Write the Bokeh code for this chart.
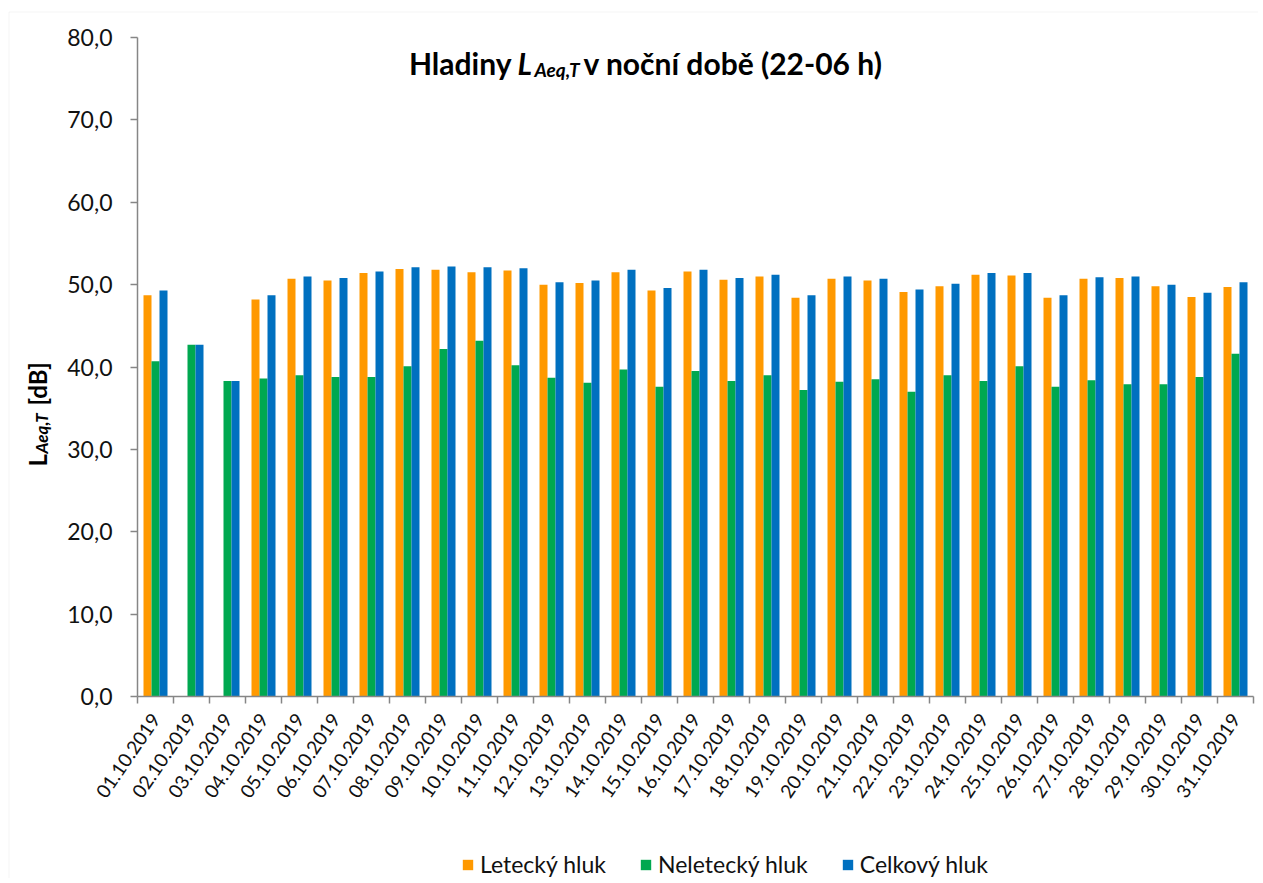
import math
from bokeh.plotting import figure
from bokeh.models import (ColumnDataSource, Range1d, LinearAxis, BoxAnnotation,
                          FixedTicker, CustomJSTickFormatter, Legend, LegendItem, Label)
from bokeh.transform import dodge
from bokeh.embed import file_html
from bokeh.resources import INLINE

nan = float("nan")
dates = ["%02d.10.2019" % d for d in range(1, 32)]
letecky = [48.7, nan, nan, 48.2, 50.7, 50.5, 51.4, 51.9, 51.8, 51.5, 51.7, 50.0, 50.2, 51.5, 49.3,
           51.6, 50.6, 51.0, 48.4, 50.7, 50.5, 49.1, 49.8, 51.2, 51.1, 48.4, 50.7, 50.8, 49.8, 48.5, 49.7]
neletecky = [40.7, 42.7, 38.3, 38.6, 39.0, 38.8, 38.8, 40.1, 42.2, 43.2, 40.2, 38.7, 38.1, 39.7, 37.6,
             39.5, 38.3, 39.0, 37.2, 38.2, 38.5, 37.0, 39.0, 38.3, 40.1, 37.6, 38.4, 37.9, 37.9, 38.8, 41.6]
celkovy = [49.3, 42.7, 38.3, 48.7, 51.0, 50.8, 51.6, 52.1, 52.2, 52.1, 52.0, 50.3, 50.5, 51.8, 49.6,
           51.8, 50.8, 51.2, 48.7, 51.0, 50.7, 49.4, 50.1, 51.4, 51.4, 48.7, 50.9, 51.0, 50.0, 49.0, 50.3]
series_names = ["Letecký hluk", "Neletecký hluk", "Celkový hluk"]
colors = ["#FF9900", "#00A850", "#0070C0"]
y_ticks = [0, 10, 20, 30, 40, 50, 60, 70, 80]
Y_MAX = 80

FONT = "Lato"
W, H = 1258, 878            # canvas
OX, OY = 0, 1               # canvas -> picture offset
PL, PR, PT, PB = 137, 1253, 38, 697   # plot area edges in picture pixels

n = len(dates)
centers = [i + 0.5 for i in range(n)]          # category slots on the x scale
bounds = [float(i) for i in range(n + 1)]

SX = (PR - PL) / n
SY = (PB - PT) / Y_MAX
x0 = -(PL - OX) / SX
x1 = n + (OX + W - PR) / SX
y0 = -(H + OY - PB) / SY
y1 = Y_MAX + (PT - OY) / SY


def xd(px):
    return x0 + (px - OX) / SX


def yd(py):
    return y1 - (py - OY) / SY


src = ColumnDataSource(dict(x=centers, a=letecky, b=neletecky, c=celkovy))

p = figure(x_range=Range1d(x0, x1), y_range=Range1d(y0, y1),
           width=W, height=H, min_border=0,
           x_axis_location=None, y_axis_location=None,
           output_backend="svg", toolbar_location=None)
p.outline_line_color = None
p.background_fill_color = "white"
p.border_fill_color = "white"
p.xgrid.visible = False
p.ygrid.visible = False
for g in p.grid:
    g.visible = False

bw = 8 / SX
offs = [-bw, 0, bw]
rs = []
for col, off, colr in zip(["a", "b", "c"], offs, colors):
    r = p.vbar(x=dodge("x", off), top=col, bottom=0, width=bw, source=src,
               fill_color=colr, line_color=None)
    rs.append(r)

# y axis
yax = LinearAxis(fixed_location=0, bounds=(0, Y_MAX), ticker=FixedTicker(ticks=y_ticks),
                 formatter=CustomJSTickFormatter(code="return tick.toFixed(1).replace('.', ',');"))
yax.axis_line_color = "#868686"
yax.axis_line_width = 1.5
yax.major_tick_line_color = "#868686"
yax.major_tick_line_width = 1.5
yax.major_tick_out = 7
yax.major_tick_in = 0
yax.minor_tick_line_color = None
yax.major_label_text_font = FONT
yax.major_label_text_font_size = "23px"
yax.major_label_text_color = "#111111"
yax.major_label_standoff = 18
p.add_layout(yax, "left")

# x axis: labels at slot centres, tick marks at slot boundaries
xax = LinearAxis(fixed_location=0, bounds=(0, n), ticker=FixedTicker(ticks=centers, minor_ticks=bounds))
xax.major_label_overrides = {c: d for c, d in zip(centers, dates)}
xax.axis_line_color = "#868686"
xax.axis_line_width = 1.5
xax.major_tick_line_color = None
xax.minor_tick_line_color = "#868686"
xax.minor_tick_line_width = 1.5
xax.minor_tick_out = 7
xax.minor_tick_in = 0
xax.major_tick_out = 7
xax.major_tick_in = 0
xax.major_label_orientation = 0.97
xax.major_label_text_font = FONT
xax.major_label_text_font_size = "19px"
xax.major_label_text_color = "#111111"
xax.major_label_standoff = 12
p.add_layout(xax, "below")

# chart-area border (left and top edges visible)
p.add_layout(BoxAnnotation(left=xd(8.5), top=yd(12.5), right=x1 + 1, bottom=y0 - 1,
                           fill_alpha=0, line_color="#d9d9d9", line_width=1))

# title pieces
tkw = dict(text_font=FONT, text_color="#000000", text_baseline="alphabetic")
p.add_layout(Label(x=xd(511), y=yd(63), text="Hladiny", text_align="right",
                   text_font_size="30px", text_font_style="bold", **tkw))
p.add_layout(Label(x=xd(517), y=yd(63), text="L", text_align="left",
                   text_font_size="30px", text_font_style="bold italic", **tkw))
p.add_layout(Label(x=xd(534), y=yd(70), text="Aeq,T", text_align="left",
                   text_font_size="19px", text_font_style="bold italic", **tkw))
p.add_layout(Label(x=xd(583), y=yd(63), text="v noční době (22-06 h)", text_align="left",
                   text_font_size="30px", text_font_style="bold", **tkw))

# y axis label pieces (rotated)
ang = math.pi / 2
p.add_layout(Label(x=xd(37), y=yd(467), text="L", text_align="left", angle=ang,
                   text_font_size="24px", text_font_style="bold", **tkw))
p.add_layout(Label(x=xd(41), y=yd(454), text="Aeq,T", text_align="left", angle=ang,
                   text_font_size="17px", text_font_style="bold italic", **tkw))
p.add_layout(Label(x=xd(37), y=yd(406), text="[dB]", text_align="left", angle=ang,
                   text_font_size="24px", text_font_style="bold", **tkw))

legend = Legend(items=[LegendItem(label=nm, renderers=[r]) for nm, r in zip(series_names, rs)],
                orientation="horizontal", location=(461 - OX, (H + OY) - 879))
legend.label_text_font = FONT
legend.label_text_font_size = "23px"
legend.label_text_color = "#111111"
legend.glyph_width = 13
legend.glyph_height = 13
legend.label_standoff = 6
legend.spacing = 33
legend.padding = 0
legend.margin = 0
legend.border_line_color = None
legend.background_fill_alpha = 0
p.add_layout(legend, "center")

open("out.html", "w").write(file_html(p, INLINE))
